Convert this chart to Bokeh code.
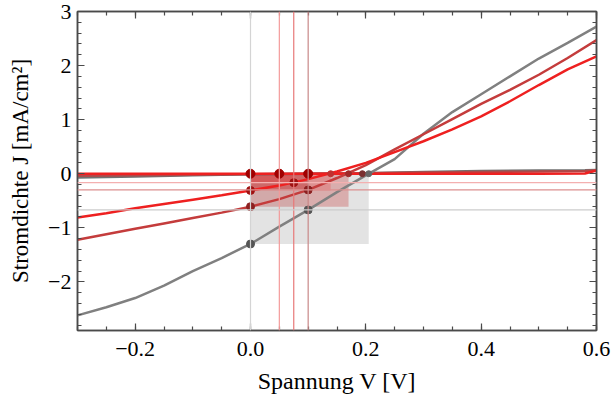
import numpy as np
from bokeh.plotting import figure
from bokeh.models import FixedTicker, LinearAxis, Span, CustomJSTickFormatter
from bokeh.embed import file_html
from bokeh.resources import INLINE

# ---- data ----
V = [-0.3, -0.25, -0.2, -0.15, -0.1, -0.05, 0.0, 0.05, 0.1, 0.15, 0.2, 0.25, 0.3, 0.35, 0.4, 0.45, 0.5, 0.55, 0.6]
J_gray = [-2.62, -2.47, -2.30, -2.07, -1.80, -1.56, -1.30, -0.98, -0.67, -0.34, -0.03, 0.27, 0.74, 1.14, 1.47, 1.80, 2.13, 2.42, 2.72]
J_darkred = [-1.22, -1.12, -1.02, -0.92, -0.82, -0.72, -0.61, -0.47, -0.30, -0.08, 0.16, 0.45, 0.73, 1.01, 1.29, 1.55, 1.83, 2.14, 2.47]
J_red = [-0.81, -0.73, -0.64, -0.56, -0.48, -0.40, -0.31, -0.22, -0.10, 0.04, 0.20, 0.40, 0.60, 0.82, 1.06, 1.34, 1.64, 1.93, 2.17]

V_dark = [-0.3, -0.2, -0.1, 0.0, 0.1, 0.2, 0.3, 0.4, 0.5, 0.58, 0.6]
J_dark_gray = [-0.07, -0.05, -0.03, -0.01, 0.0, 0.01, 0.03, 0.05, 0.06, 0.065, 0.07]
J_dark_darkred = [-0.04, -0.03, -0.02, -0.01, 0.0, 0.01, 0.02, 0.03, 0.04, 0.05, 0.06]
J_dark_red = [0.0, 0.0, 0.0, 0.0, 0.0, 0.0, 0.0, 0.0, 0.0, 0.005, 0.06]

# solar cell parameters: gray, darkred, red
Voc = [0.205, 0.17, 0.139]
Jsc = [-1.30, -0.61, -0.31]
Vmpp = [0.1, 0.1, 0.075]
Jmpp = [-0.67, -0.30, -0.166]

vline_x = [0.0, 0.05, 0.075, 0.1]
hline_y = [-0.67, -0.30, -0.166]

zero_dots_x = [0.0, 0.05, 0.1]
voc_dots_x = [0.139, 0.17, 0.194, 0.205]

x_ticks = [-0.2, 0.0, 0.2, 0.4, 0.6]
x_tick_labels = ["\u22120.2", "0.0", "0.2", "0.4", "0.6"]
y_ticks = [-2, -1, 0, 1, 2, 3]
y_tick_labels = ["\u22122", "\u22121", "0", "1", "2", "3"]

# ---- styles ----
C_GRAY = "#808080"
C_DARKRED = "#c43c3c"
C_RED = "#ee2020"
curve_colors = [C_GRAY, C_DARKRED, C_RED]
vline_colors = ["#d4d4d4", "#f49a9a", "#e87878", "#c88888"]
hline_colors = ["#cccccc", "#dc9090", "#f4b0b0"]
FONT = "Liberation Serif"
AX = "#4a4a4a"

p = figure(width=613, height=405, x_range=(-0.3, 0.6), y_range=(-2.9, 3.0),
           x_axis_location=None, y_axis_location=None,
           output_backend="svg", toolbar_location=None,
           min_border_left=77, min_border_right=17, min_border_top=11, min_border_bottom=75)
p.xgrid.visible = False
p.ygrid.visible = False
p.outline_line_color = AX
p.outline_line_width = 1.5

# shaded rectangles
p.quad(left=[0, 0, 0], right=Voc, top=[0, 0, 0], bottom=Jsc,
       fill_color=curve_colors, fill_alpha=[0.22, 0.32, 0.2], line_color=None)
p.quad(left=[0, 0, 0], right=Vmpp, top=[0, 0, 0], bottom=Jmpp,
       fill_color=curve_colors, fill_alpha=[0.08, 0.45, 0.22], line_color=None)

for x, c in zip(vline_x, vline_colors):
    p.add_layout(Span(location=x, dimension="height", line_color=c, line_width=1.2))
for y, c in zip(hline_y, hline_colors):
    p.add_layout(Span(location=y, dimension="width", line_color=c, line_width=1.2))

# dark curves
p.line(V_dark, J_dark_gray, line_color="#707070", line_width=2.5)
p.line(V_dark, J_dark_darkred, line_color="#b04848", line_width=2.5)
p.line(V_dark, J_dark_red, line_color=C_RED, line_width=2.5)

# illuminated curves
p.line(V, J_gray, line_color=C_GRAY, line_width=2.5)
p.line(V, J_darkred, line_color=C_DARKRED, line_width=2.5)
p.line(V, J_red, line_color=C_RED, line_width=2.5)

# markers
p.scatter([0, 0, 0], Jsc, size=8, color=["#555555", "#8c2020", "#a01010"])
p.scatter(Vmpp, Jmpp, size=8, color=["#555555", "#8c2020", "#a01010"])
p.scatter(zero_dots_x, [0] * len(zero_dots_x), size=9, color="#a00000")
p.scatter(voc_dots_x, [0] * len(voc_dots_x), size=6, color=["#c03030", "#a02828", "#7a3030", "#666666"])

# axes
x_minor = np.round(np.arange(-0.3, 0.6001, 0.05), 3).tolist()
y_minor = np.round(np.arange(-2.8, 3.0001, 0.2), 2).tolist()

def make_axis(ticks, minor):
    return LinearAxis(ticker=FixedTicker(ticks=ticks, minor_ticks=minor))

bottom = make_axis(x_ticks, x_minor)
left = make_axis(y_ticks, y_minor)
top = make_axis(x_ticks, x_minor)
right = make_axis(y_ticks, y_minor)

bottom.major_label_overrides = dict(zip(x_ticks, x_tick_labels))
left.major_label_overrides = dict(zip(y_ticks, y_tick_labels))
top.formatter = CustomJSTickFormatter(code="return '';")
right.formatter = CustomJSTickFormatter(code="return '';")

for ax in [bottom, left, top, right]:
    ax.major_tick_in = 7
    ax.major_tick_out = 0
    ax.minor_tick_in = 4
    ax.minor_tick_out = 0
    ax.axis_line_color = AX
    ax.axis_line_width = 1.5
    ax.major_tick_line_color = AX
    ax.minor_tick_line_color = AX
    ax.major_tick_line_width = 1.2
    ax.minor_tick_line_width = 1.2
    ax.major_label_text_font = FONT
    ax.major_label_text_color = "black"
    ax.axis_label_text_font = FONT
    ax.axis_label_text_font_style = "normal"
    ax.axis_label_text_color = "black"

top.major_label_standoff = 0
right.major_label_standoff = 0

bottom.major_label_text_font_size = "22px"
left.major_label_text_font_size = "22px"
bottom.major_label_standoff = 11
left.major_label_standoff = 6
bottom.axis_label = "Spannung V [V]"
left.axis_label = "Stromdichte J [mA/cm\u00b2]"
bottom.axis_label_text_font_size = "24px"
left.axis_label_text_font_size = "23px"
bottom.axis_label_standoff = 9
left.axis_label_standoff = 12

p.add_layout(bottom, "below")
p.add_layout(left, "left")
p.add_layout(top, "above")
p.add_layout(right, "right")

open("out.html", "w").write(file_html(p, INLINE))
